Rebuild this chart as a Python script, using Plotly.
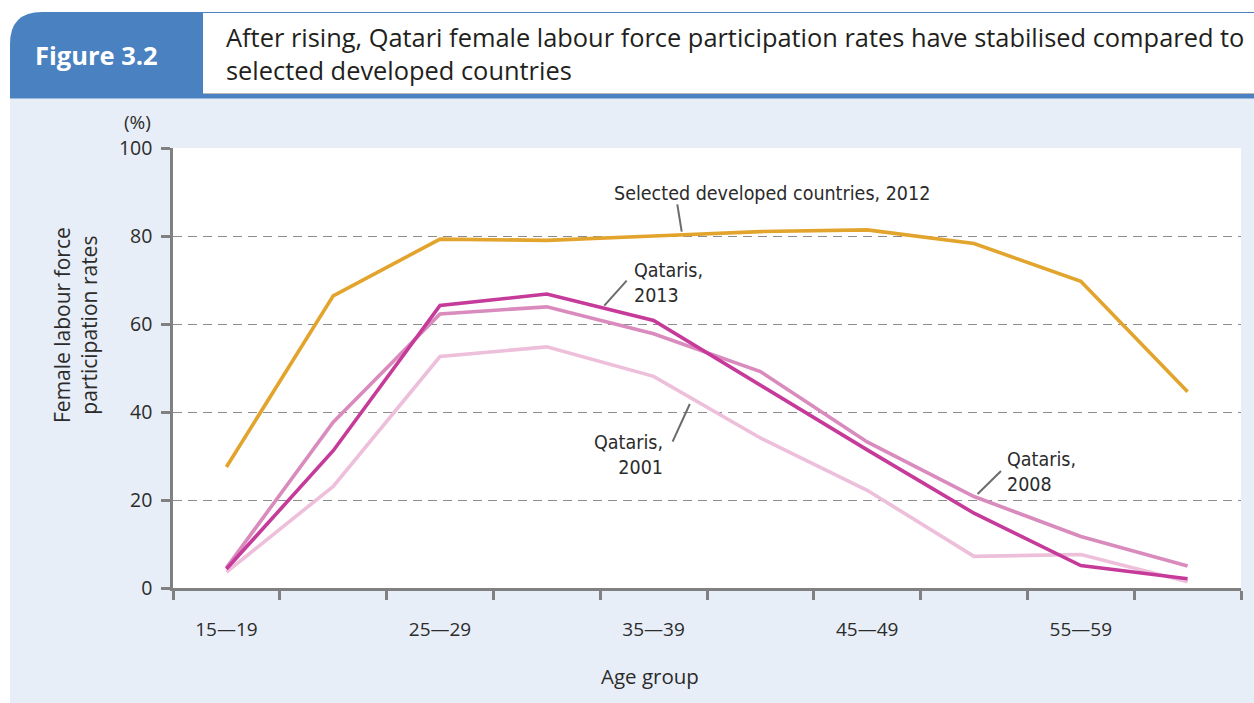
import plotly.graph_objects as go

# ---------------- data ----------------
age_groups = ["15—19", "20—24", "25—29", "30—34", "35—39",
              "40—44", "45—49", "50—54", "55—59", "60—64"]
developed_2012 = [27.5, 66.4, 79.3, 79.0, 80.0, 81.0, 81.4, 78.3, 69.7, 44.6]
qataris_2013 = [4.3, 31.2, 64.2, 66.8, 60.8, 46.0, 31.4, 17.0, 5.1, 2.1]
qataris_2008 = [4.6, 37.7, 62.3, 63.9, 57.8, 49.2, 33.2, 20.8, 11.7, 5.0]
qataris_2001 = [3.6, 23.1, 52.6, 54.8, 48.1, 34.1, 22.2, 7.2, 7.6, 1.4]
y_ticks = [0, 20, 40, 60, 80, 100]
y_grid = [20, 40, 60, 80]

series = [
    ("Qataris, 2001", qataris_2001, "#eebfdb"),
    ("Qataris, 2008", qataris_2008, "#d98bbd"),
    ("Qataris, 2013", qataris_2013, "#c63a99"),
    ("Selected developed countries, 2012", developed_2012, "#e2a42c"),
]

W, H = 1254, 703
L, R, T, B = 173, 1241, 148, 588  # plot area in px

def px(x):
    return (x - L) / (R - L)

def py(y):
    return (B - y) / (B - T)

xidx = list(range(len(age_groups)))

fig = go.Figure()
for name, vals, col in series:
    fig.add_trace(go.Scatter(x=xidx, y=vals, mode="lines", name=name,
                             line=dict(color=col, width=3.6), hoverinfo="skip"))

COND = "Liberation Sans Narrow, DejaVu Sans Condensed, Arial Narrow, sans-serif"
REG = "Open Sans, Noto Sans, sans-serif"
TXT = "#2b2b2b"
AX = "#808080"

label_idx = xidx[::2]
boundaries = [i - 0.5 for i in range(len(age_groups) + 1)]

fig.update_layout(
    width=W, height=H,
    margin=dict(l=L, r=W - R, t=T, b=H - B, autoexpand=False),
    paper_bgcolor="#e8eef7",
    plot_bgcolor="#ffffff",
    showlegend=False,
    xaxis=dict(
        range=[-0.5, len(age_groups) - 0.5],
        tickmode="array", tickvals=label_idx,
        ticktext=[age_groups[i] for i in label_idx],
        ticks="", showgrid=False, zeroline=False,
        showline=True, linecolor=AX, linewidth=2.5,
        tickfont=dict(family=REG, size=19, color=TXT),
        ticklabelstandoff=22,
        minor=dict(tickmode="array", tickvals=boundaries, ticks="outside",
                   ticklen=9, tickwidth=2.5, tickcolor=AX, showgrid=False),
        fixedrange=True,
    ),
    yaxis=dict(
        range=[0, 100],
        tickmode="array", tickvals=y_ticks,
        ticks="outside", ticklen=9, tickwidth=2.5, tickcolor=AX,
        showgrid=False, zeroline=False,
        showline=True, linecolor=AX, linewidth=2.5,
        tickfont=dict(family=REG, size=19.5, color=TXT),
        ticklabelstandoff=5,
        minor=dict(tickmode="array", tickvals=y_grid, ticks="",
                   showgrid=True, gridcolor="#8c8c8c", gridwidth=1,
                   griddash="9px,6px"),
        fixedrange=True,
    ),
)

shapes = []
shapes.append(dict(type="rect", xref="paper", yref="paper",
                   x0=px(0), x1=px(W), y0=py(0), y1=py(12),
                   fillcolor="white", line=dict(width=0), layer="below"))
shapes.append(dict(type="rect", xref="paper", yref="paper",
                   x0=px(0), x1=px(10), y0=py(0), y1=py(H),
                   fillcolor="white", line=dict(width=0), layer="below"))
shapes.append(dict(type="rect", xref="paper", yref="paper",
                   x0=px(10), x1=px(W), y0=py(12), y1=py(98.5),
                   fillcolor="#4a82c1", line=dict(width=0)))
shapes.append(dict(type="rect", xref="paper", yref="paper",
                   x0=px(203), x1=px(W), y0=py(13), y1=py(93.5),
                   fillcolor="white", line=dict(width=0)))
shapes.append(dict(type="line", xref="paper", yref="paper",
                   x0=px(203), x1=px(W), y0=py(93.5), y1=py(93.5),
                   line=dict(color="#b8b8b8", width=1)))
shapes.append(dict(type="rect", xref="paper", yref="paper",
                   x0=px(10), x1=px(45), y0=py(12), y1=py(47),
                   fillcolor="white", line=dict(width=0)))
r = 32
x0p, y0p = 10, 12
path = (f"M {px(x0p)},{py(y0p + r)} "
        f"Q {px(x0p)},{py(y0p)} {px(x0p + r)},{py(y0p)} "
        f"L {px(x0p + 36)},{py(y0p)} L {px(x0p + 36)},{py(y0p + 36)} "
        f"L {px(x0p)},{py(y0p + 36)} Z")
shapes.append(dict(type="path", xref="paper", yref="paper", path=path,
                   fillcolor="#4a82c1", line=dict(width=0)))

leaders = [((677.3, 204.3), (681.7, 231.7)),
           ((626.7, 280.7), (604.3, 305.7)),
           ((672.6, 441.7), (689.8, 404.0)),
           ((1001.0, 471.0), (977.6, 494.0))]
for (ax0, ay0), (ax1, ay1) in leaders:
    shapes.append(dict(type="line", xref="paper", yref="paper",
                       x0=px(ax0), y0=py(ay0), x1=px(ax1), y1=py(ay1),
                       line=dict(color="#6b6b6b", width=2)))
fig.update_layout(shapes=shapes)

ann = []
def add_text(text, x, y, size, family, color=TXT, xanchor="center", align="center"):
    ann.append(dict(text=text, x=px(x), y=py(y), xref="paper", yref="paper",
                    showarrow=False, xanchor=xanchor, yanchor="middle", align=align,
                    font=dict(family=family, size=size, color=color)))

add_text("<b>Figure 3.2</b>", 96, 55, 25.5, REG, color="white")
add_text("After rising, Qatari female labour force participation rates have stabilised compared to"
         "<br>selected developed countries", 224, 53, 25.4, REG, color="#231f20",
         xanchor="left", align="left")
add_text("(%)", 137, 122, 19, REG)
add_text("Age group", 650, 676, 20.5, REG)
ann.append(dict(text="Female labour force<br>participation rates", x=px(75), y=py(325),
                xref="paper", yref="paper", showarrow=False, textangle=-90,
                xanchor="center", yanchor="middle",
                font=dict(family=REG, size=21, color=TXT)))
add_text("Selected developed countries, 2012", 772, 193, 19.5, COND)
add_text("Qataris,<br>2013", 632, 283, 19.5, COND, xanchor="left", align="left")
add_text("Qataris,<br>2001", 665, 455, 19.5, COND, xanchor="right", align="right")
add_text("Qataris,<br>2008", 1005, 472, 19.5, COND, xanchor="left", align="left")
fig.update_layout(annotations=ann)

fig.write_html("out.html", config={"displayModeBar": False},
               post_script="document.body.style.margin='0';document.body.style.overflow='hidden';")
